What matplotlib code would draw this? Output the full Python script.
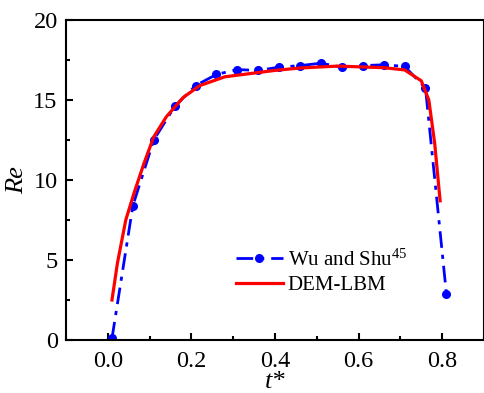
import matplotlib
matplotlib.use("Agg")
import matplotlib.pyplot as plt
from matplotlib.ticker import MultipleLocator

plt.rcParams['font.family'] = ['Liberation Serif', 'DejaVu Serif']
plt.rcParams['mathtext.fontset'] = 'custom'
plt.rcParams['mathtext.rm'] = 'Liberation Serif'
plt.rcParams['mathtext.it'] = 'Liberation Serif:italic'

# Wu and Shu reference data
wu_t = [0.01, 0.06, 0.11, 0.16, 0.21, 0.26, 0.31, 0.36, 0.41, 0.46, 0.51,
        0.56, 0.61, 0.66, 0.71, 0.76, 0.81]
wu_re = [0.1, 8.4, 12.5, 14.6, 15.9, 16.6, 16.9, 16.85, 17.05, 17.15, 17.3,
         17.05, 17.15, 17.2, 17.1, 15.75, 2.9]

# DEM-LBM curve
dem_t = [0.01, 0.023, 0.043, 0.063, 0.086, 0.11, 0.14, 0.18, 0.22, 0.28,
         0.34, 0.40, 0.46, 0.55, 0.66, 0.71, 0.75, 0.768, 0.782, 0.795]
dem_re = [2.5, 4.8, 7.5, 9.2, 11.0, 12.7, 13.95, 15.15, 15.9, 16.45,
          16.65, 16.85, 17.0, 17.12, 17.02, 16.88, 16.2, 15.0, 12.3, 8.7]

fig = plt.figure(figsize=(4.85, 3.93), dpi=100)
ax = fig.add_axes([66/485, 1-340/393, (484-66)/485, 320/393])

ax.plot(wu_t, wu_re, color='#0000ff', lw=2.0, dashes=(6, 2.5, 1.5, 2.5),
        marker='o', markersize=5.5, label='Wu and Shu$^{45}$', zorder=2)
ax.plot(dem_t, dem_re, color='#ff0000', lw=2.3, label='DEM-LBM', zorder=3)

ax.set_xlim(-0.1, 0.9)
ax.set_ylim(0, 20)
ax.xaxis.set_minor_locator(MultipleLocator(0.1))
ax.yaxis.set_major_locator(MultipleLocator(5))
ax.yaxis.set_minor_locator(MultipleLocator(2.5))
ax.set_xticks([0.0, 0.2, 0.4, 0.6, 0.8])
ax.set_xticklabels(['0.0', '0.2', '0.4', '0.6', '0.8'])

ax.tick_params(which='both', direction='in', top=False, right=False,
               labelsize=17.5, width=1.5)
ax.tick_params(which='major', length=5)
ax.tick_params(axis='x', which='major', pad=8)
ax.tick_params(axis='y', which='major', pad=6)
ax.tick_params(which='minor', length=3)
for s in ax.spines.values():
    s.set_linewidth(1.5)

ax.set_xlabel('t*', fontsize=19, style='italic', labelpad=-1)
ax.set_ylabel('Re', fontsize=19, style='italic', labelpad=4)

leg = ax.legend(loc='upper left', bbox_to_anchor=(0.386, 0.31), frameon=False,
                fontsize=15, handlelength=2.25, handletextpad=0.25,
                labelspacing=0.25, borderaxespad=0)

fig.savefig('out.png', dpi=100)
